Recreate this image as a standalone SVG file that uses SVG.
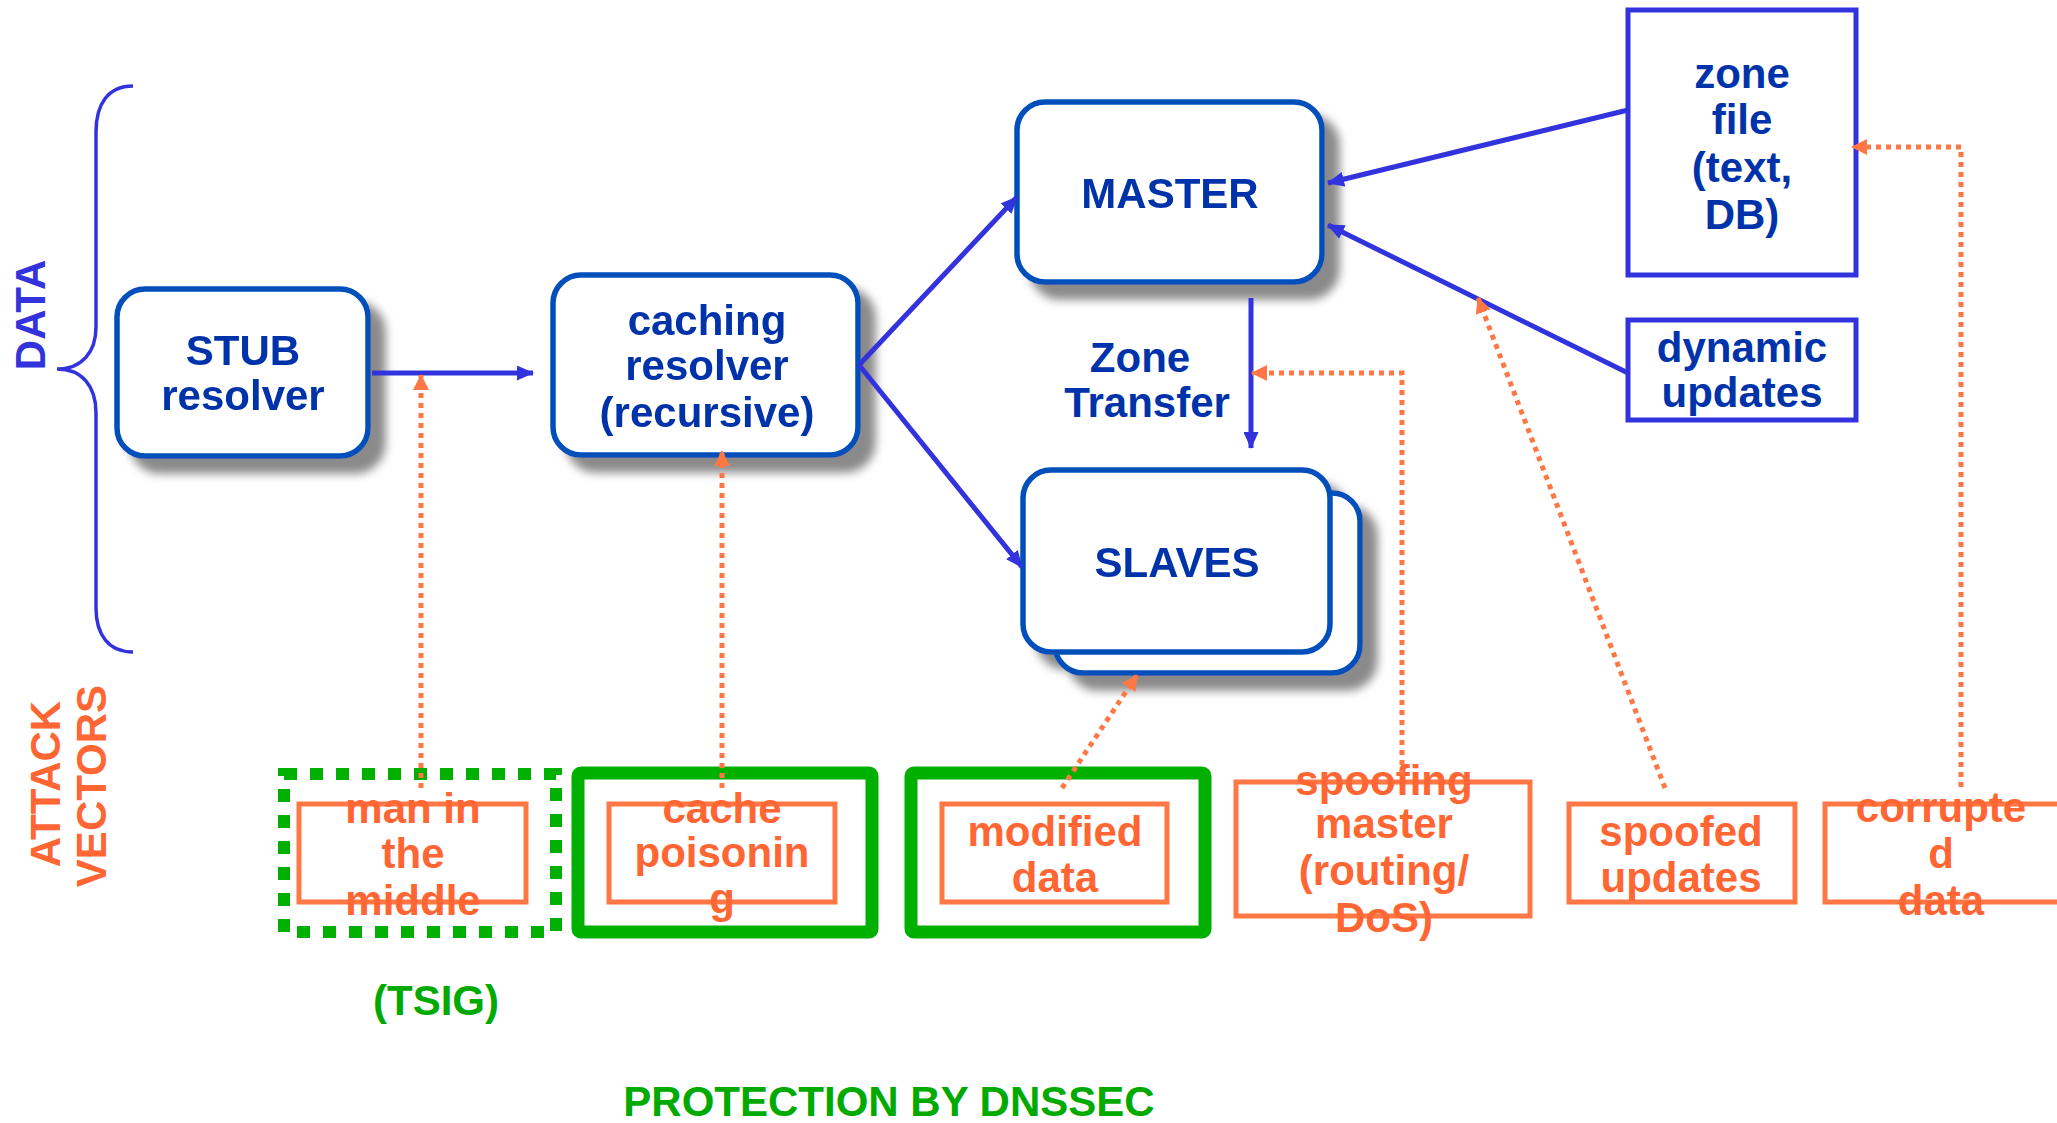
<svg xmlns="http://www.w3.org/2000/svg" width="2057" height="1123" viewBox="0 0 2057 1123">
<style>
text{font-family:"Liberation Sans",Arial,sans-serif;font-weight:bold;font-size:42px;text-anchor:middle}
.nt{fill:#0033AA}
.bt{fill:#3333DD}
.ot{fill:#FF6633}
.gt{fill:#00AA00}
.rb{fill:#fff;stroke:#0050BB;stroke-width:5.5}
.sb{fill:#fff;stroke:#3333DD;stroke-width:5}
.ob{fill:none;stroke:#FF7744;stroke-width:5}
.gb{fill:none;stroke:#00B000;stroke-width:13}
.bl{fill:none;stroke:#3333DD;stroke-width:5}
.od{fill:none;stroke:#FF7744;stroke-width:5;stroke-dasharray:5 5}
</style>
<defs>
<filter id="sh" x="-20%" y="-20%" width="150%" height="150%">
<feGaussianBlur in="SourceAlpha" stdDeviation="5"/>
<feOffset dx="15" dy="15" result="b"/>
<feFlood flood-color="#8a8a8a"/>
<feComposite in2="b" operator="in"/>
<feMerge><feMergeNode/><feMergeNode in="SourceGraphic"/></feMerge>
</filter>
<marker id="ab" markerUnits="userSpaceOnUse" markerWidth="17" markerHeight="15" refX="16" refY="7.5" orient="auto">
<path d="M0,0 L17,7.5 L0,15 z" fill="#3333DD"/>
</marker>
<marker id="ao" markerUnits="userSpaceOnUse" markerWidth="16" markerHeight="16" refX="15" refY="8" orient="auto">
<path d="M0,0 L16,8 L0,16 z" fill="#FF7744"/>
</marker>
</defs>
<rect width="2057" height="1123" fill="#fff"/>

<g id="brace">
<path d="M133,86 C108,86 96,104 96,132 L96,327 C96,352 82,369 57,369 C82,369 96,386 96,413 L96,608 C96,634 108,652 133,652" fill="none" stroke="#3333DD" stroke-width="3.5"/>
<text class="bt" transform="translate(45,315) rotate(-90)">DATA</text>
</g>

<g id="attack-label">
<text class="ot" transform="translate(60,784) rotate(-90)">ATTACK</text>
<text class="ot" transform="translate(106,786) rotate(-90)">VECTORS</text>
</g>

<g id="zone-transfer-label">
<text class="nt" x="1140" y="372">Zone</text>
<text class="nt" x="1147" y="417">Transfer</text>
</g>

<g id="stub" filter="url(#sh)">
<rect class="rb" x="117" y="289" width="251" height="167" rx="28"/>
<text class="nt" x="243" y="365">STUB</text>
<text class="nt" x="243" y="410">resolver</text>
</g>

<g id="caching" filter="url(#sh)">
<rect class="rb" x="553" y="275" width="305" height="180" rx="28"/>
<text class="nt" x="707" y="335">caching</text>
<text class="nt" x="707" y="380">resolver</text>
<text class="nt" x="707" y="427">(recursive)</text>
</g>

<g id="master" filter="url(#sh)">
<rect class="rb" x="1017" y="102" width="305" height="180" rx="28"/>
<text class="nt" x="1170" y="208">MASTER</text>
</g>

<g id="slaves" filter="url(#sh)">
<rect class="rb" x="1055" y="493" width="305" height="180" rx="28"/>
<rect class="rb" x="1023" y="470" width="307" height="182" rx="28"/>
<text class="nt" x="1177" y="577">SLAVES</text>
</g>

<g id="zonefile">
<rect class="sb" x="1628" y="10" width="228" height="265"/>
<text class="nt" x="1742" y="88">zone</text>
<text class="nt" x="1742" y="134">file</text>
<text class="nt" x="1742" y="182">(text,</text>
<text class="nt" x="1742" y="229">DB)</text>
</g>

<g id="dynamic">
<rect class="sb" x="1628" y="320" width="228" height="100"/>
<text class="nt" x="1742" y="362">dynamic</text>
<text class="nt" x="1742" y="407">updates</text>
</g>

<g id="mitm">
<rect x="284" y="774" width="272" height="158" fill="none" stroke="#00B000" stroke-width="12" stroke-dasharray="13 13"/>
<rect class="ob" x="299" y="804" width="227" height="98"/>
<text class="ot" x="413" y="823">man in</text>
<text class="ot" x="413" y="868">the</text>
<text class="ot" x="413" y="915">middle</text>
</g>

<g id="cache-poisoning">
<rect class="gb" x="578" y="773" width="294" height="159" rx="3"/>
<rect class="ob" x="609" y="804" width="226" height="98"/>
<text class="ot" x="722" y="823">cache</text>
<text class="ot" x="722" y="867">poisonin</text>
<text class="ot" x="722" y="913">g</text>
</g>

<g id="modified-data">
<rect class="gb" x="911" y="773" width="294" height="159" rx="3"/>
<rect class="ob" x="942" y="804" width="225" height="98"/>
<text class="ot" x="1055" y="846">modified</text>
<text class="ot" x="1055" y="892">data</text>
</g>

<g id="spoofing-master">
<rect class="ob" x="1236" y="782" width="294" height="134"/>
<text class="ot" x="1384" y="795">spoofing</text>
<text class="ot" x="1384" y="838">master</text>
<text class="ot" x="1384" y="885">(routing/</text>
<text class="ot" x="1384" y="932">DoS)</text>
</g>

<g id="spoofed-updates">
<rect class="ob" x="1569" y="804" width="226" height="98"/>
<text class="ot" x="1681" y="846">spoofed</text>
<text class="ot" x="1681" y="892">updates</text>
</g>

<g id="corrupted-data">
<rect class="ob" x="1825" y="804" width="260" height="98"/>
<text class="ot" x="1941" y="822">corrupte</text>
<text class="ot" x="1941" y="868">d</text>
<text class="ot" x="1941" y="915">data</text>
</g>

<g id="connectors">
<line class="bl" x1="372" y1="373" x2="533" y2="373" marker-end="url(#ab)"/>
<line class="bl" x1="859" y1="365" x2="1017" y2="197" marker-end="url(#ab)"/>
<line class="bl" x1="859" y1="365" x2="1022" y2="567" marker-end="url(#ab)"/>
<line class="bl" x1="1628" y1="110" x2="1328" y2="183" marker-end="url(#ab)"/>
<line class="bl" x1="1628" y1="373" x2="1328" y2="225" marker-end="url(#ab)"/>
<line class="bl" x1="1251" y1="298" x2="1251" y2="448" marker-end="url(#ab)"/>
<path class="od" d="M421,788 L421,375" marker-end="url(#ao)"/>
<path class="od" d="M722,788 L722,451" marker-end="url(#ao)"/>
<path class="od" d="M1062,788 L1137,675" marker-end="url(#ao)"/>
<path class="od" d="M1402,775 L1402,373 L1252,373" marker-end="url(#ao)"/>
<path class="od" d="M1665,788 L1478,298" marker-end="url(#ao)"/>
<path class="od" d="M1961,787 L1961,147 L1852,147" marker-end="url(#ao)"/>
</g>

<g id="labels">
<text class="gt" x="436" y="1015">(TSIG)</text>
<text class="gt" x="889" y="1116">PROTECTION BY DNSSEC</text>
</g>
</svg>
